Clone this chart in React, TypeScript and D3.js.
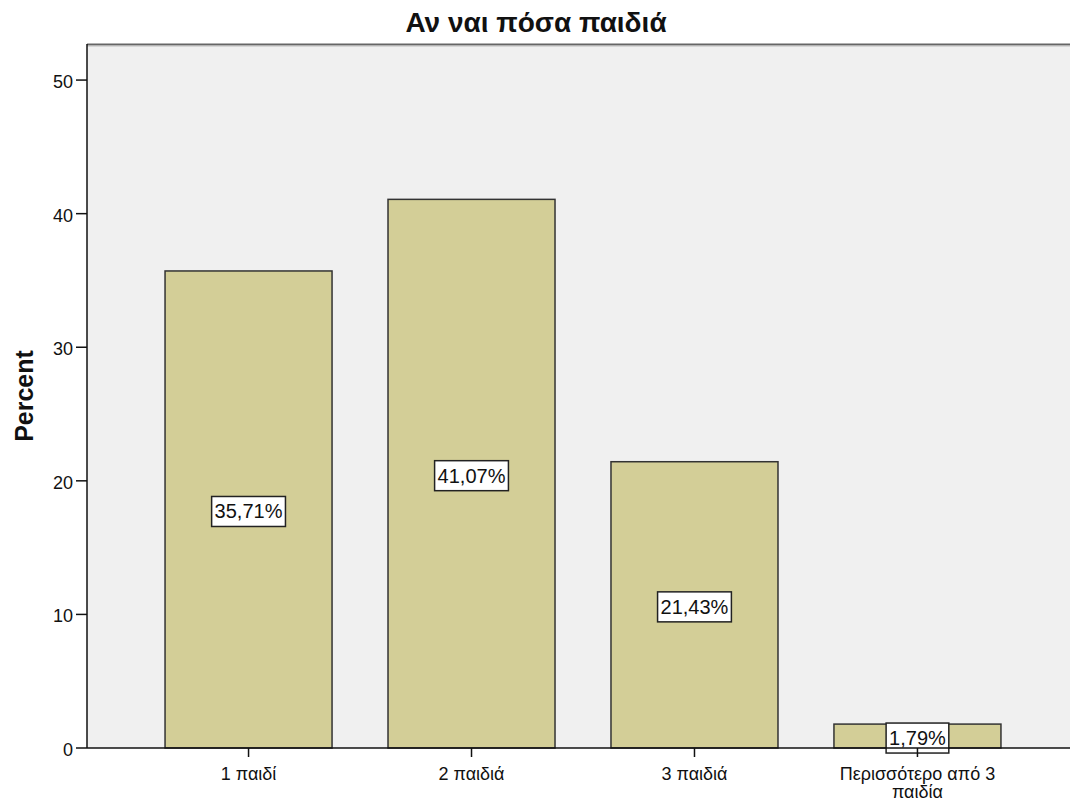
import React from "react";
import * as d3 from "d3";

const categories = ["1 παιδί", "2 παιδιά", "3 παιδιά", "Περισσότερο από 3 παιδία"];
const categoryLines = [["1 παιδί"], ["2 παιδιά"], ["3 παιδιά"], ["Περισσότερο από 3", "παιδία"]];
const percents = [35.71, 41.07, 21.43, 1.79];
const percentLabels = ["35,71%", "41,07%", "21,43%", "1,79%"];
const yTicks = [0, 10, 20, 30, 40, 50];
const title = "Αν ναι πόσα παιδιά";
const yTitle = "Percent";

const W = 1070;
const H = 803;
const left = 87;
const top = 44;
const bottom = 748;
const right = 1079;
const font = "'Liberation Sans', Arial, sans-serif";

function textWidth(s: string, size: number) {
  let w = 0;
  for (const ch of s) {
    if (ch === ",") w += 0.278;
    else if (ch === "%") w += 0.889;
    else w += 0.556;
  }
  return w * size;
}

export default function App() {
  const x = d3
    .scaleBand<string>()
    .domain(categories)
    .range([left, right])
    .paddingInner(0.251)
    .paddingOuter(0.35);
  const y = d3.scaleLinear().domain([0, 52.7]).range([bottom, top]);

  return (
    <svg
      width={W}
      height={H}
      style={{ position: "absolute", left: 0, top: 0, background: "#fff" }}
      fontFamily={font}
    >
      <rect x={left} y={top} width={W - left} height={bottom - top} fill="#f0f0f0" />
      <line x1={left} x2={W} y1={top + 0.5} y2={top + 0.5} stroke="#666" strokeWidth={2} />
      <line x1={left} x2={W} y1={top + 2} y2={top + 2} stroke="#bbb" strokeWidth={1} />
      <text x={536} y={32} textAnchor="middle" fontSize={28} fontWeight="bold" fill="#111">
        {title}
      </text>
      {categories.map((c, i) => {
        const bx = x(c)!;
        const bw = x.bandwidth();
        const yt = y(percents[i]);
        const cx = bx + bw / 2;
        const cy = (yt + bottom) / 2 + 2;
        const lw = textWidth(percentLabels[i], 20) + 6;
        return (
          <g key={c}>
            <rect x={bx} y={yt} width={bw} height={bottom - yt} fill="#d3ce97" stroke="#333" strokeWidth={1.5} />
            <rect x={cx - lw / 2} y={cy - 15} width={lw} height={30} fill="#fff" stroke="#222" strokeWidth={1.5} />
            <text x={cx} y={cy + 7} textAnchor="middle" fontSize={20} fill="#111">
              {percentLabels[i]}
            </text>
          </g>
        );
      })}
      <line x1={left} x2={left} y1={top} y2={bottom} stroke="#111" strokeWidth={1.5} />
      <line x1={left} x2={W} y1={bottom} y2={bottom} stroke="#111" strokeWidth={1.5} />
      {yTicks.map((t) => (
        <g key={t}>
          <line x1={left - 11} x2={left} y1={y(t)} y2={y(t)} stroke="#111" strokeWidth={1.5} />
          <text x={left - 14} y={y(t) + 8} textAnchor="end" fontSize={18} fill="#111">
            {t}
          </text>
        </g>
      ))}
      {categories.map((c, i) => {
        const cx = x(c)! + x.bandwidth() / 2;
        return (
          <g key={"x" + c}>
            <line x1={cx} x2={cx} y1={bottom} y2={bottom + 9} stroke="#111" strokeWidth={1.5} />
            {categoryLines[i].map((ln, j) => (
              <text key={j} x={cx} y={780 + j * 18} textAnchor="middle" fontSize={18} fill="#111">
                {ln}
              </text>
            ))}
          </g>
        );
      })}
      <text
        transform={`translate(33,396) rotate(-90)`}
        textAnchor="middle"
        fontSize={25}
        fontWeight="bold"
        fill="#111"
      >
        {yTitle}
      </text>
    </svg>
  );
}
